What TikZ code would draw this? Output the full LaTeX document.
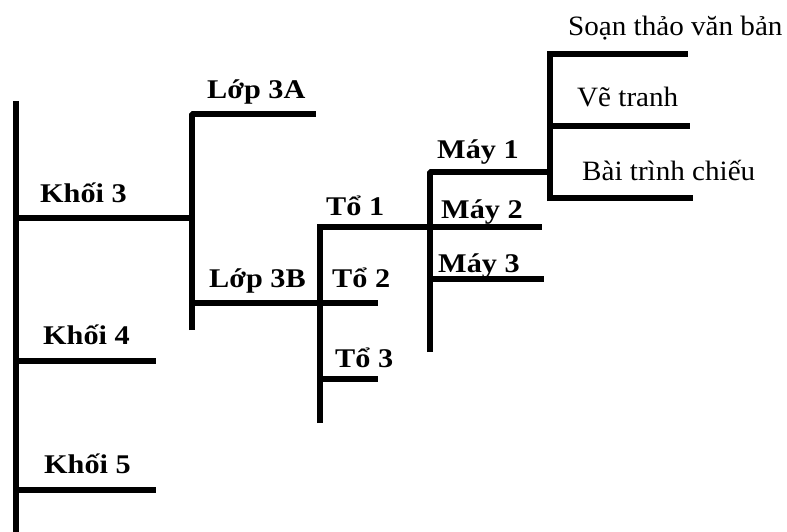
\documentclass[tikz,border=0pt]{standalone}
\usepackage{fontspec}
\setmainfont{Liberation Serif}
\newfontfamily\boldlblfont{Liberation Serif}[FakeStretch=1.12]
\newfontfamily\applblfont{Liberation Serif}[FakeStretch=1.04]
\tikzset{
  branch/.style={line width=6.5pt, line cap=butt},
  lbl/.style={anchor=base west, inner sep=0pt, font=\boldlblfont\bfseries\fontsize{27}{30}\selectfont},
  applbl/.style={anchor=base west, inner sep=0pt, font=\applblfont\fontsize{28}{30}\selectfont}
}
\begin{document}
\begin{tikzpicture}[x=1pt, y=-1pt]
      \useasboundingbox (0, 0) rectangle (787, 532);

      % Khoi
      \coordinate (khoitop) at (16, 101);
      \coordinate (khoibot) at (16, 532);
      \coordinate (khoi3) at (16, 218);
      \coordinate (khoi4) at (16, 361);
      \coordinate (khoi5) at (16, 490);
      \coordinate (khoi4end) at (156, 361);
      \coordinate (khoi5end) at (156, 490);

      % Lop
      \coordinate (lopbot) at (192, 330);
      \coordinate (lopmid) at (192, 218);
      \coordinate (loptop) at (192, 114);
      \coordinate (lop3Aend) at (316, 114);
      \coordinate (lop3B) at (192, 303);

      % To
      \coordinate (tobot) at (320, 423);
      \coordinate (totop) at (320, 227);
      \coordinate (to2) at (320, 303);
      \coordinate (to2end) at (378, 303);
      \coordinate (to3) at (320, 379);
      \coordinate (to3end) at (378, 379);

      % May
      \coordinate (maybot) at (430, 352);
      \coordinate (maytop) at (430, 172);
      \coordinate (may2) at (430, 227);
      \coordinate (may2end) at (542, 227);
      \coordinate (may3) at (430, 279);
      \coordinate (may3end) at (544, 279);

      % Ung dung
      \coordinate (udbot) at (550, 201);
      \coordinate (udmid) at (550, 172);
      \coordinate (udtop) at (550, 54);
      \coordinate (soanend) at (688, 54);
      \coordinate (ve) at (550, 126);
      \coordinate (veend) at (690, 126);
      \coordinate (bai) at (550, 198);
      \coordinate (baiend) at (693, 198);

      % Khoi
      \draw[branch] (khoitop) -- (khoibot);
      \draw[branch] (khoi3) -- (lopmid);
      \draw[branch] (khoi4) -- (khoi4end);
      \draw[branch] (khoi5) -- (khoi5end);
      \node[lbl] (lkhoi3) at (40, 202) {Khối 3};
      \node[lbl] (lkhoi4) at (43, 344) {Khối 4};
      \node[lbl] (lkhoi5) at (44, 473) {Khối 5};

      % Lop
      \draw[branch, line join=bevel] (lopbot) -- (loptop) -- (lop3Aend);
      \draw[branch] (lop3B) -- (to2);
      \node[lbl] (llop3A) at (207, 99) {Lớp 3A};
      \node[lbl] (llop3B) at (209, 287) {Lớp 3B};

      % To
      \draw[branch] (tobot) -- (totop) -- (may2);
      \draw[branch] (to2) -- (to2end);
      \draw[branch] (to3) -- (to3end);
      \node[lbl] (lto1) at (326, 215) {Tổ 1};
      \node[lbl] (lto2) at (332, 287) {Tổ 2};
      \node[lbl] (lto3) at (335, 367) {Tổ 3};

      % May
      \draw[branch, line join=bevel] (maybot) -- (maytop) -- (udmid);
      \draw[branch] (may2) -- (may2end);
      \draw[branch] (may3) -- (may3end);
      \node[lbl] (lmay1) at (437, 158) {Máy 1};
      \node[lbl] (lmay2) at (441, 218) {Máy 2};
      \node[lbl] (lmay3) at (438, 272) {Máy 3};

      % Ung dung
      \draw[branch] (udbot) -- (udtop) -- (soanend);
      \draw[branch] (ve) -- (veend);
      \draw[branch] (bai) -- (baiend);
      \node[applbl] (lsoan) at (568, 36) {Soạn thảo văn bản};
      \node[applbl] (lve) at (577, 107) {Vẽ tranh};
      \node[applbl] (lbai) at (582, 180) {Bài trình chiếu};
    \end{tikzpicture}
\end{document}
